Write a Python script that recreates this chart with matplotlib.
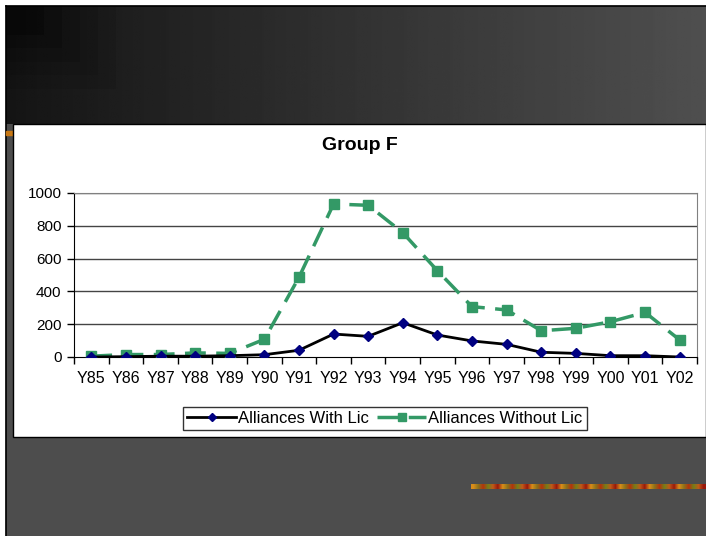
import numpy as np
import matplotlib
matplotlib.use('Agg')
import matplotlib.pyplot as plt
from matplotlib.patches import Rectangle

plt.rcParams['font.family'] = ['Liberation Sans', 'DejaVu Sans']

# data
years = ['Y85', 'Y86', 'Y87', 'Y88', 'Y89', 'Y90', 'Y91', 'Y92', 'Y93',
         'Y94', 'Y95', 'Y96', 'Y97', 'Y98', 'Y99', 'Y00', 'Y01', 'Y02']
with_lic = [0, 2, 5, 5, 8, 14, 41, 140, 126, 209, 134, 98, 77, 29, 22, 8, 8, 0]
without_lic = [5, 15, 15, 25, 22, 108, 486, 933, 925, 758, 526, 307, 287,
               160, 175, 215, 272, 104]
y_ticks = [0, 200, 400, 600, 800, 1000]

W, H = 706, 536
fig = plt.figure(figsize=(W / 100, H / 100), dpi=100)

# slide background, drawn in pixel coordinates
bg = fig.add_axes([0, 0, 1, 1])
bg.axis('off')
bg.add_patch(Rectangle((0, 0), W, H, color='white', zorder=0))
bg.add_patch(Rectangle((6, 6), W - 6, H - 6, color='#4d4d4d', zorder=1))
grad = np.linspace(0.08, 0.31, 256).reshape(1, -1)
bg.imshow(grad, cmap='gray', vmin=0, vmax=1, aspect='auto',
          extent=(6, W, 124, 6), zorder=2)
# darker stepped corner top-left
for i, a in enumerate([0.08, 0.08, 0.1, 0.15, 0.25]):
    s = 110 - i * 18
    bg.add_patch(Rectangle((6, 6), s, s * 0.75, color='black', alpha=a,
                           lw=0, zorder=3))
bg.plot([6, 6], [6, H], color='black', lw=1.2, zorder=4)
bg.plot([6, W], [6, 6], color='black', lw=1.2, zorder=4)
bg.add_patch(Rectangle((6, 131), 7, 4, color='#c87814', zorder=4))
# decorative stripe
stripe = np.array([[0.85, 0.55, 0.1], [0.55, 0.45, 0.1], [0.7, 0.2, 0.05],
                   [0.45, 0.5, 0.1], [0.75, 0.35, 0.1], [0.6, 0.1, 0.05]])
bg.imshow(np.tile(stripe, (8, 1)).reshape(1, -1, 3), aspect='auto',
          extent=(471, W, 489, 484), zorder=4, interpolation='bilinear')
# white chart panel
bg.add_patch(Rectangle((13, 124), W - 13, 313, facecolor='white',
                       edgecolor='black', lw=1, zorder=5))
bg.set_xlim(0, W)
bg.set_ylim(H, 0)

ax = fig.add_axes([74 / W, (H - 357) / H, (697 - 74) / W, (357 - 193) / H])
x = np.arange(len(years))
ax.plot(x, with_lic, color='black', lw=2, marker='D', ms=5,
        mfc='#000080', mec='#000080', label='Alliances With Lic', zorder=4)
ax.plot(x, without_lic, color='#339966', lw=2.5, ls=(0, (6, 3)), marker='s',
        ms=7, mfc='#339966', mec='#339966', label='Alliances Without Lic',
        zorder=3)

ax.set_xlim(-0.5, len(years) - 0.5)
ax.set_ylim(0, 1000)
ax.set_yticks(y_ticks)
ax.set_yticklabels([str(v) for v in y_ticks], fontsize=11)
ax.set_xticks(x)
ax.set_xticklabels(years, fontsize=11.5)
ax.set_xticks(np.arange(-0.5, len(years)), minor=True)
ax.tick_params(axis='x', which='major', length=0, pad=10)
ax.tick_params(axis='x', which='minor', length=5, width=1, direction='out')
ax.tick_params(axis='y', length=5, width=1, direction='out', pad=4)
for v in y_ticks[1:]:
    ax.axhline(v, color='#444444', lw=1, zorder=1)
ax.spines['top'].set_color('#808080')
ax.spines['right'].set_color('#808080')
ax.spines['left'].set_color('black')
ax.spines['bottom'].set_color('black')

fig.text(360 / W, 1 - 146 / H, 'Group F', fontsize=14, fontweight='bold',
         ha='center', va='center')

leg = ax.legend(loc='center', bbox_to_anchor=(385 / W, 1 - 418.5 / H),
                bbox_transform=fig.transFigure, ncol=2, fontsize=12,
                frameon=True, fancybox=False, edgecolor='black',
                borderpad=0.25, columnspacing=0.5, handletextpad=0.15,
                handlelength=2.9, markerscale=0.75)
leg.get_frame().set_linewidth(1)

fig.savefig('out.png', dpi=100)
